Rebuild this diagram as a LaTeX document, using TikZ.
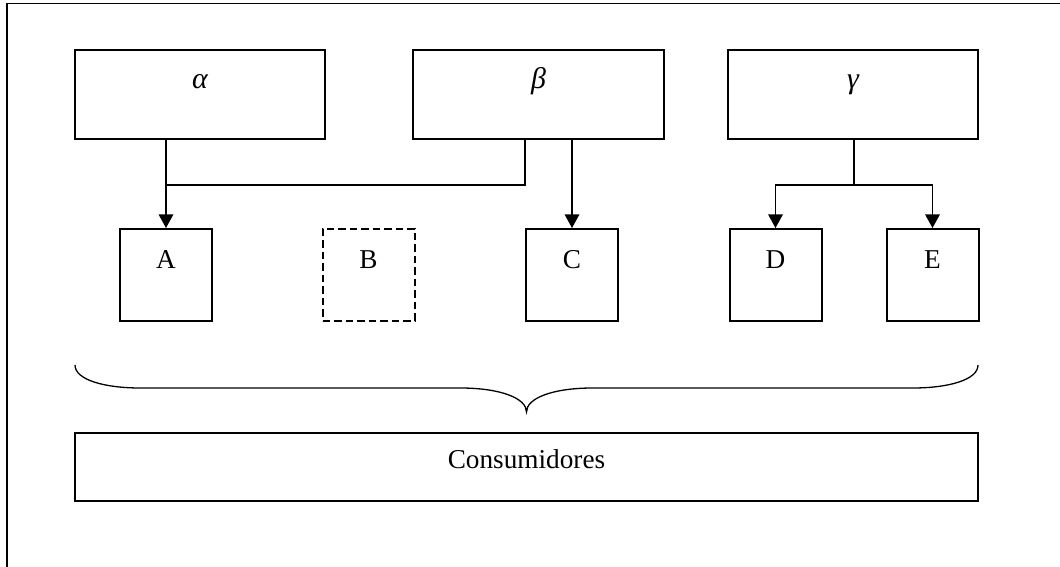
\documentclass[tikz,border=0pt]{standalone}
\usepackage{fontspec}
\setmainfont{Liberation Serif}
\usetikzlibrary{arrows.meta, calc, positioning}
\tikzset{
  blk/.style    = {draw=black, line width=0.4mm, minimum height=17.8mm,
                   inner sep=0pt},
  topblk/.style = {blk, minimum width=50mm},
  unit/.style   = {blk, minimum width=18.4mm, minimum height=18.4mm},
  ghost/.style  = {unit, dash pattern=on 1.5mm off 0.8mm},
  sink/.style   = {blk, minimum width=180.6mm, minimum height=13.6mm},
  lbl/.style    = {anchor=base, inner sep=0pt,
                   font=\fontsize{15.5}{18}\selectfont},
  greek/.style  = {lbl, font=\fontsize{17}{20}\selectfont\itshape},
  link/.style   = {draw=black, line width=0.26mm},
  flow/.style   = {link, -{Triangle[length=2.7mm, width=2.9mm]}},
  frame/.style  = {draw=black, line width=0.3mm},
}
\begin{document}
\begin{tikzpicture}[x=0.2mm, y=-0.2mm]

  \useasboundingbox (0,0) rectangle (1060,567);
  \draw[frame] (7,567) -- (7,3.5) -- (1060,3.5);

  %% ---------------- sources ----------------
  \node[topblk] (alpha) at (200,94.5) {};
  \node[topblk, minimum width=50.2mm] (beta) at (538.5,94.5) {};
  \node[topblk] (gamma) at (853,94.5) {};
  \node[greek] (alphatxt) at ($(alpha.north)+(0,40)$) {α};
  \node[greek] (betatxt)  at ($(beta.north)+(0,40)$)  {β};
  \node[greek] (gammatxt) at ($(gamma.north)+(0,40)$) {γ};

  %% ---------------- units ----------------
  \node[unit]  (A) at (166,275)   {};
  \node[ghost] (B) at (368.5,275) {};
  \node[unit]  (C) at (572,275)   {};
  \node[unit]  (D) at (775.5,275) {};
  \node[unit]  (E) at (932.5,275) {};
  \foreach \u in {A, B, C, D, E}
    \node[lbl] (\u txt) at ($(\u.north)+(0,41)$) {\u};

  %% ---------------- wiring ----------------
  \coordinate (ajoin)  at (166,185);
  \coordinate (gsplit) at (854,185);

  \draw[flow] (alpha.south -| A.north) -- (A.north);
  \draw[link] (beta.south -| C.west) |- (ajoin);
  \draw[flow] (beta.south -| C.north) -- (C.north);
  \draw[link] (gamma.south -| gsplit) -- (gsplit);
  \draw[flow] (gsplit) -| (D.north);
  \draw[flow] (gsplit) -| (E.north);

  %% ---------------- brace and consumers ----------------
  \draw[link] (75,365) .. controls (75,380) and (105,388) .. (140,388)
    -- (460,388) .. controls (500,388) and (526.5,398) .. (526.5,412)
    .. controls (526.5,398) and (553,388) .. (593,388)
    -- (913,388) .. controls (948,388) and (978,380) .. (978,365);

  \node[sink] (cons) at (526.5,467) {};
  \node[lbl] (constxt) at ($(cons.north)+(0,37)$) {Consumidores};

\end{tikzpicture}
\end{document}
